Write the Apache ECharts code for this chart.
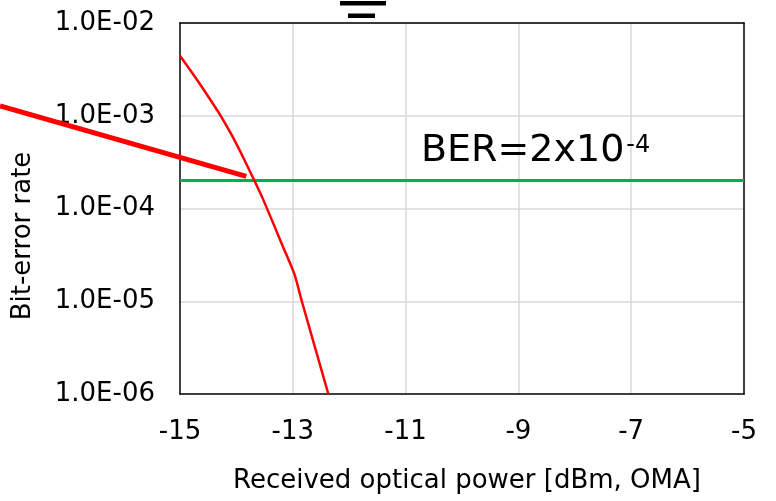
<!DOCTYPE html>
<html>
<head>
<meta charset="utf-8">
<script src="https://cdn.jsdelivr.net/npm/echarts@6/dist/echarts.min.js"></script>
<style>
  html, body { margin: 0; padding: 0; background: #fff; }
  #chart { width: 776px; height: 501px; }
</style>
</head>
<body>
<div id="chart"></div>
<script>
// Received optical power [dBm] vs bit-error rate
var powerDbm = [-15, -14.69, -14.45, -14.27, -14.07, -13.86, -13.68, -13.53, -13.18, -12.97, -12.84, -12.37];
var berValues = [4.44e-3, 2.4e-3, 1.45e-3, 9.8e-4, 5.98e-4, 3.36e-4, 1.99e-4, 1.27e-4, 3.95e-5, 1.95e-5, 1.0e-5, 1.0e-6];

// BER limit line
var limitX = [-15, -5];
var limitBer = 2e-4;

// stray thick pointer line (runs off the left of the plot)
var pointerX = [-18.19, -13.825];
var pointerBer = [1.28e-3, 2.22e-4];

var xTicks = { min: -15, max: -5, step: 2 };
var yRange = { min: 1e-6, max: 1e-2 };

var FONT = 'DejaVu Sans';

function pairs(xs, ys) {
  return xs.map(function (x, i) { return [x, ys[i]]; });
}

// 1e-3 -> "1.0E-03"
function sciLabel(v) {
  var s = v.toExponential(1).split('e');
  var exp = parseInt(s[1], 10);
  var sign = exp < 0 ? '-' : '+';
  var digits = String(Math.abs(exp));
  if (digits.length < 2) digits = '0' + digits;
  return s[0] + 'E' + sign + digits;
}

var gridLine = { show: true, showMinLine: false, showMaxLine: false, lineStyle: { color: '#d9d9d9', width: 1.5 } };
var blackLine = { show: true, lineStyle: { color: '#000', width: 1.5 } };

var chart = echarts.init(document.getElementById('chart'));

chart.setOption({
  animation: false,
  backgroundColor: '#ffffff',
  grid: { left: 180, right: 32, top: 23, bottom: 107 },
  xAxis: [
    {
      type: 'value',
      min: xTicks.min,
      max: xTicks.max,
      interval: xTicks.step,
      name: 'Received optical power [dBm, OMA]',
      nameLocation: 'middle',
      nameGap: 74,
      nameTextStyle: { fontFamily: FONT, fontSize: 26, color: '#000', padding: [0, 0, 0, 10] },
      axisLine: blackLine,
      axisTick: { show: false },
      axisLabel: { fontFamily: FONT, fontSize: 26, color: '#000', margin: 25 },
      splitLine: gridLine
    },
    {
      // top frame edge
      type: 'value', position: 'top',
      min: xTicks.min, max: xTicks.max, interval: xTicks.step,
      axisLine: blackLine, axisTick: { show: false }, axisLabel: { show: false }, splitLine: { show: false }
    }
  ],
  yAxis: [
    {
      type: 'log',
      logBase: 10,
      min: yRange.min,
      max: yRange.max,
      name: 'Bit-error rate',
      nameLocation: 'middle',
      nameGap: 144,
      nameTextStyle: { fontFamily: FONT, fontSize: 26, color: '#000', padding: [0, 55, 0, 0] },
      axisLine: blackLine,
      axisTick: { show: false },
      axisLabel: {
        fontFamily: FONT, fontSize: 26, color: '#000', margin: 25,
        formatter: sciLabel
      },
      splitLine: gridLine
    },
    {
      // right frame edge
      type: 'log', logBase: 10, position: 'right',
      min: yRange.min, max: yRange.max,
      axisLine: blackLine, axisTick: { show: false }, axisLabel: { show: false }, splitLine: { show: false }
    }
  ],
  series: [
    {
      name: 'limit',
      type: 'line',
      data: pairs(limitX, [limitBer, limitBer]),
      showSymbol: false,
      lineStyle: { color: '#00b050', width: 3 },
      z: 3
    },
    {
      name: 'BER',
      type: 'line',
      data: pairs(powerDbm, berValues),
      showSymbol: false,
      smooth: 0.25,
      lineStyle: { color: '#ff0000', width: 2.5 },
      z: 4
    }
  ]
});

// pointer line lies partly outside the grid, so place it through the axes as a graphic
var pointerPts = pairs(pointerX, pointerBer).map(function (p) {
  return chart.convertToPixel({ xAxisIndex: 0, yAxisIndex: 0 }, p);
});

chart.setOption({
  graphic: [
    {
      type: 'text',
      left: 421,
      top: 129,
      z: 20,
      style: {
        text: '{b|BER=2x10}{s|-4}',
        rich: {
          b: { fontFamily: FONT, fontSize: 38, color: '#000', lineHeight: 44 },
          s: { fontFamily: FONT, fontSize: 24, color: '#000', lineHeight: 24, verticalAlign: 'top', padding: [5, 0, 0, 2] }
        }
      }
    },
    { type: 'rect', z: 20, shape: { x: 340, y: 1, width: 46, height: 4.5 }, style: { fill: '#000' } },
    { type: 'rect', z: 20, shape: { x: 348, y: 13.5, width: 27, height: 4.5 }, style: { fill: '#000' } },
    {
      type: 'polyline',
      z: 20,
      shape: { points: pointerPts },
      style: { stroke: '#ff0000', lineWidth: 5, lineCap: 'butt', fill: null }
    }
  ]
});
</script>
</body>
</html>
